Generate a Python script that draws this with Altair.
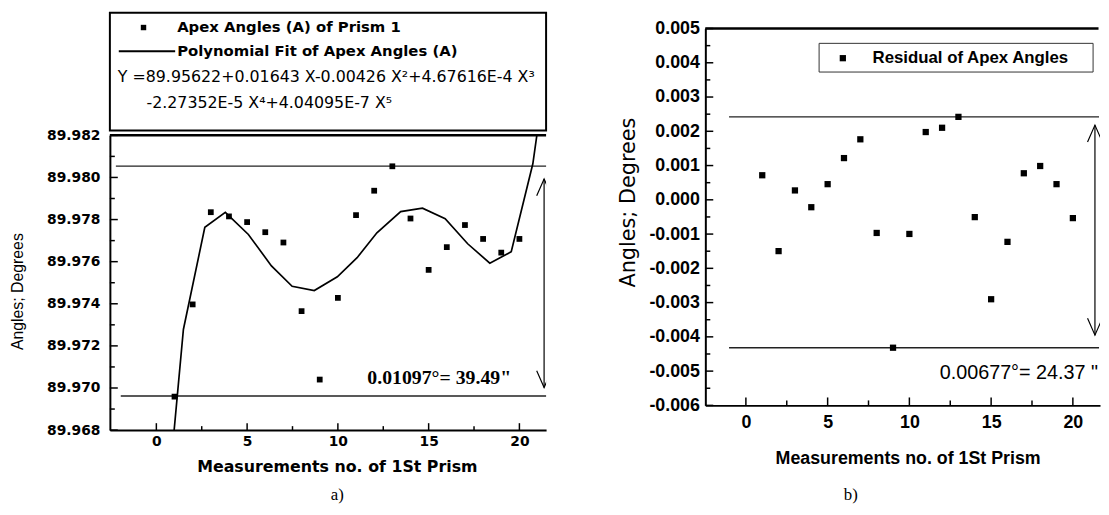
import altair as alt
import pandas as pd

# ---------------- data ----------------
meas_no = list(range(1, 21))
apex_angles = [89.96959, 89.97397, 89.97835, 89.97815, 89.97788, 89.97740, 89.97691,
               89.97365, 89.97040, 89.97428, 89.97821, 89.97937, 89.98053, 89.97805,
               89.97561, 89.97669, 89.97774, 89.97708, 89.97643, 89.97708]
fit_x = [0.98, 1.49, 2.67, 3.80, 5.07, 6.34, 7.48, 8.70, 9.97, 11.06, 12.15,
         13.46, 14.66, 15.91, 17.15, 18.37, 19.55, 20.74, 20.96]
fit_y = [89.96800, 89.97278, 89.97763, 89.97834, 89.97729, 89.97580, 89.97483,
         89.97463, 89.97528, 89.97619, 89.97737, 89.97838, 89.97854, 89.97804,
         89.97685, 89.97593, 89.97647, 89.98065, 89.98200]
residuals = [0.000717, -0.001497, 0.000274, -0.000216, 0.000457, 0.001218, 0.001766,
             -0.000967, -0.004317, -0.000996, 0.001978, 0.002103, 0.002421, -0.000505,
             -0.002902, -0.001227, 0.000775, 0.000987, 0.000457, -0.000534]

left_x_major = [0, 5, 10, 15, 20]
left_x_minor = [2.5, 7.5, 12.5, 17.5]
left_y_major = [89.968, 89.970, 89.972, 89.974, 89.976, 89.978, 89.980, 89.982]
left_y_minor = [89.969, 89.971, 89.973, 89.975, 89.977, 89.979, 89.981]
right_x_major = [0, 5, 10, 15, 20]
right_x_minor = [2.5, 7.5, 12.5, 17.5]
right_y_major = [-0.006, -0.005, -0.004, -0.003, -0.002, -0.001, 0.0,
                 0.001, 0.002, 0.003, 0.004, 0.005]
right_y_minor = [-0.0055, -0.0045, -0.0035, -0.0025, -0.0015, -0.0005,
                 0.0005, 0.0015, 0.0025, 0.0035, 0.0045]

left_band_y = [89.98054, 89.96962]
left_band_x_start = [-2.23, -1.96]
left_band_x_end = [21.47, 21.47]
left_arrow_x = [21.36]
left_arrow_low = [89.97002]
left_arrow_high = [89.97993]

right_band_y = [0.002421, -0.004317]
right_band_x_start = [-1.03, -1.03]
right_band_x_end = [21.6, 21.6]
right_arrow_x = [21.35]
right_arrow_low = [-0.00395]
right_arrow_high = [0.00218]

eq_line1 = "Y =89.95622+0.01643 X-0.00426 X\u00b2+4.67616E-4 X\u00b3"
eq_line2 = "-2.27352E-5 X\u2074+4.04095E-7 X\u2075"

# ---------------- helpers ----------------
dummy = pd.DataFrame({"k": [0]})
UP = "M-0.88,2L0,0L0.88,2"
DOWN = "M-0.88,-2L0,0L0.88,-2"


def vtext(text, x, y, size, font, weight="normal", align="center", angle=0):
    return alt.Chart(dummy).mark_text(
        text=text, font=font, fontSize=size, fontWeight=weight, align=align,
        baseline="middle", angle=angle, color="black"
    ).encode(x=alt.value(x), y=alt.value(y))


def vrule(x, x2, y, width=1.0, color="black"):
    return alt.Chart(dummy).mark_rule(color=color, strokeWidth=width).encode(
        x=alt.value(x), x2=alt.value(x2), y=alt.value(y))


# ---------------- left panel ----------------
# plot region occupies y = 124 .. 422 of the cell; legend box sits above it
W1, H1, TOP1 = 441, 422, 124
FL = "DejaVu Sans"
xs1 = alt.Scale(domain=[-2.56, 21.47], nice=False, zero=False)
ys1 = alt.Scale(domain=[89.968, 89.982], nice=False, zero=False, range=[H1, TOP1])
xaxis1 = alt.Axis(values=left_x_major, title=None, grid=False, ticks=False, tickSize=0,
                  domain=True, domainColor="black", domainWidth=2, labelFont=FL,
                  labelFontSize=14, labelFontWeight="bold", labelColor="black",
                  labelPadding=5, labelFlush=False, format="d")
yaxis1 = alt.Axis(values=left_y_major, title=None, grid=False, ticks=False, tickSize=0,
                  domain=True, domainColor="black", domainWidth=2, labelFont=FL,
                  labelFontSize=14, labelFontWeight="bold", labelColor="black",
                  labelPadding=10, format=".3f")


def X1(f):
    return alt.X(f, type="quantitative", scale=xs1, axis=xaxis1)


def Y1(f):
    return alt.Y(f, type="quantitative", scale=ys1, axis=yaxis1)


df_apex = pd.DataFrame({"n": meas_no, "angle": apex_angles})
df_fit = pd.DataFrame({"x": fit_x, "y": fit_y})
df_band1 = pd.DataFrame({"y": left_band_y, "x": left_band_x_start, "x2": left_band_x_end})
df_arr1 = pd.DataFrame({"x": left_arrow_x, "lo": left_arrow_low, "hi": left_arrow_high})

l_layers = [
    vrule(0, W1, TOP1, width=2.5),
    alt.Chart(pd.DataFrame({"t": left_x_major})).mark_rule(color="black", strokeWidth=1.5)
       .encode(x=X1("t"), y=alt.value(H1), y2=alt.value(H1 - 7)),
    alt.Chart(pd.DataFrame({"t": left_x_minor})).mark_rule(color="black", strokeWidth=1.5)
       .encode(x=X1("t"), y=alt.value(H1), y2=alt.value(H1 - 4)),
    alt.Chart(pd.DataFrame({"t": left_y_major})).mark_rule(color="black", strokeWidth=1.5)
       .encode(y=Y1("t"), x=alt.value(0), x2=alt.value(8)),
    alt.Chart(pd.DataFrame({"t": left_y_minor})).mark_rule(color="black", strokeWidth=1.5)
       .encode(y=Y1("t"), x=alt.value(0), x2=alt.value(5)),
    alt.Chart(df_band1).mark_rule(color="#222222", strokeWidth=1.3)
       .encode(x=X1("x"), x2="x2", y=Y1("y")),
    alt.Chart(df_fit).mark_line(color="black", strokeWidth=1.7)
       .encode(x=X1("x"), y=Y1("y")),
    alt.Chart(df_apex).mark_square(size=34, color="black", opacity=1)
       .encode(x=X1("n"), y=Y1("angle")),
    alt.Chart(df_arr1).mark_rule(color="black", strokeWidth=1.2, clip=True)
       .encode(x=X1("x"), y=Y1("lo"), y2="hi"),
    alt.Chart(df_arr1).mark_point(shape=UP, size=289, filled=False, color="black",
                                  strokeWidth=1.2, opacity=1, clip=True)
       .encode(x=X1("x"), y=Y1("hi")),
    alt.Chart(df_arr1).mark_point(shape=DOWN, size=289, filled=False, color="black",
                                  strokeWidth=1.2, opacity=1, clip=True)
       .encode(x=X1("x"), y=Y1("lo")),
    vtext("0.01097\u00b0= 39.49\"", 333, 369, 20, "Liberation Serif", weight="bold"),
    # legend box above the plot
    alt.Chart(dummy).mark_rect(fillOpacity=0, stroke="black", strokeWidth=2)
       .encode(x=alt.value(0), x2=alt.value(W1), y=alt.value(0), y2=alt.value(119)),
    alt.Chart(dummy).mark_square(size=30, color="black", opacity=1)
       .encode(x=alt.value(34), y=alt.value(15)),
    vtext("Apex Angles (A) of Prism 1", 68, 15, 15, FL, weight="bold", align="left"),
    vrule(9, 66, 39, width=2),
    vtext("Polynomial Fit of Apex Angles (A)", 68, 39, 15, FL, weight="bold", align="left"),
    vtext(eq_line1, 8, 65, 16, FL, align="left"),
    vtext(eq_line2, 37, 91, 16, FL, align="left"),
    # titles
    vtext("Angles; Degrees", -93, 282, 16, "Liberation Sans", angle=270),
    vtext("Measurements no. of 1St Prism", 230, 459, 16, FL, weight="bold"),
    vtext("a)", 230, 488, 17, "Liberation Serif"),
]
left = alt.layer(*l_layers).properties(width=W1, height=H1)

# ---------------- right panel ----------------
W2, H2, TOP2 = 399, 397, 16
FR = "Liberation Sans"
xs2 = alt.Scale(domain=[-2.48, 21.66], nice=False, zero=False)
ys2 = alt.Scale(domain=[-0.006, 0.005], nice=False, zero=False, range=[H2, TOP2])
xaxis2 = alt.Axis(values=right_x_major, title=None, grid=False, ticks=False, tickSize=0,
                  domain=True, domainColor="black", domainWidth=2, labelFont=FR,
                  labelFontSize=18, labelFontWeight="bold", labelColor="black",
                  labelPadding=8, labelFlush=False, format="d")
yaxis2 = alt.Axis(values=right_y_major, title=None, grid=False, ticks=False, tickSize=0,
                  domain=True, domainColor="black", domainWidth=2, labelFont=FR,
                  labelFontSize=18, labelFontWeight="bold", labelColor="black",
                  labelPadding=6, format=".3f",
                  labelExpr="replace(datum.label, '\u2212', '-')")


def X2(f):
    return alt.X(f, type="quantitative", scale=xs2, axis=xaxis2)


def Y2(f):
    return alt.Y(f, type="quantitative", scale=ys2, axis=yaxis2)


df_res = pd.DataFrame({"n": meas_no, "r": residuals})
df_band2 = pd.DataFrame({"y": right_band_y, "x": right_band_x_start, "x2": right_band_x_end})
df_arr2 = pd.DataFrame({"x": right_arrow_x, "lo": right_arrow_low, "hi": right_arrow_high})

r_layers = [
    vrule(0, W2 - 1.5, TOP2, width=2.5),
    alt.Chart(pd.DataFrame({"t": right_x_major})).mark_rule(color="black", strokeWidth=1.5)
       .encode(x=X2("t"), y=alt.value(H2), y2=alt.value(H2 - 8)),
    alt.Chart(pd.DataFrame({"t": right_x_minor})).mark_rule(color="black", strokeWidth=1.5)
       .encode(x=X2("t"), y=alt.value(H2), y2=alt.value(H2 - 5)),
    alt.Chart(pd.DataFrame({"t": right_y_major})).mark_rule(color="black", strokeWidth=1.5)
       .encode(y=Y2("t"), x=alt.value(0), x2=alt.value(8)),
    alt.Chart(pd.DataFrame({"t": right_y_minor})).mark_rule(color="black", strokeWidth=1.5)
       .encode(y=Y2("t"), x=alt.value(0), x2=alt.value(5)),
    alt.Chart(df_band2).mark_rule(color="#222222", strokeWidth=1.5)
       .encode(x=X2("x"), x2="x2", y=Y2("y")),
    alt.Chart(df_res).mark_square(size=40, color="black", opacity=1)
       .encode(x=X2("n"), y=Y2("r")),
    alt.Chart(df_arr2).mark_rule(color="black", strokeWidth=1.2)
       .encode(x=X2("x"), y=Y2("lo"), y2="hi"),
    alt.Chart(df_arr2).mark_point(shape=UP, size=289, filled=False, color="black",
                                  strokeWidth=1.2, opacity=1, clip=True)
       .encode(x=X2("x"), y=Y2("hi")),
    alt.Chart(df_arr2).mark_point(shape=DOWN, size=289, filled=False, color="black",
                                  strokeWidth=1.2, opacity=1, clip=True)
       .encode(x=X2("x"), y=Y2("lo")),
    vtext("0.00677\u00b0= 24.37 \"", 397, 364, 20, FR, align="right"),
    # legend
    alt.Chart(dummy).mark_rect(fillOpacity=0, stroke="#333333", strokeWidth=1)
       .encode(x=alt.value(115), x2=alt.value(392), y=alt.value(31), y2=alt.value(60)),
    alt.Chart(dummy).mark_square(size=40, color="black", opacity=1)
       .encode(x=alt.value(139), y=alt.value(46)),
    vtext("Residual of Apex Angles", 169, 46, 17, FR, weight="bold", align="left"),
    # titles
    vtext("Angles; Degrees", -77, 192, 21, "DejaVu Sans", angle=270),
    vtext("Measurements no. of 1St Prism", 205, 451, 18, FR, weight="bold"),
    vtext("b)", 147, 488, 17, "Liberation Serif"),
]
right = alt.layer(*r_layers).properties(width=W2, height=H2)

chart = alt.hconcat(left, right, spacing=70).properties(
    padding={"left": 1, "top": 0, "right": 0, "bottom": 0},
    background="white",
).configure_view(stroke="transparent")

chart.save("out.html", embed_options={"renderer": "svg", "actions": False})
